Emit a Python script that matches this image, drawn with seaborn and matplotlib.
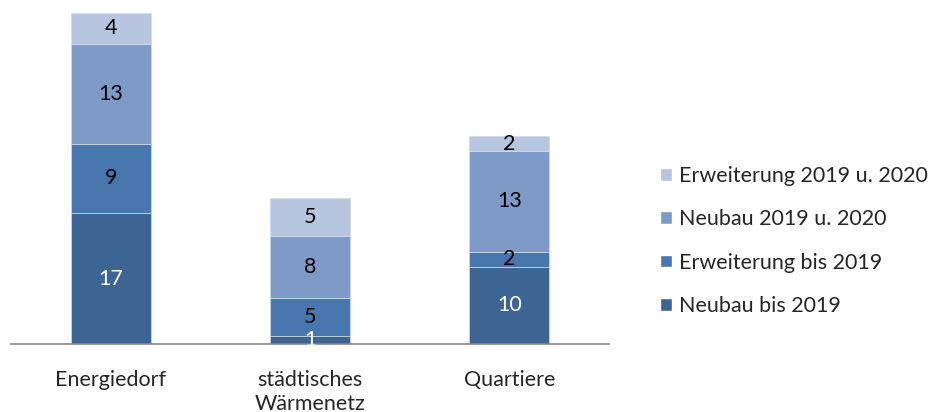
import numpy as np
import pandas as pd
import matplotlib.pyplot as plt
import seaborn as sns
from matplotlib.patches import Patch

categories = ["Energiedorf", "städtisches\nWärmenetz", "Quartiere"]
series = ["Neubau bis 2019", "Erweiterung bis 2019", "Neubau 2019 u. 2020", "Erweiterung 2019 u. 2020"]
neubau_bis_2019 = [17, 1, 10]
erweiterung_bis_2019 = [9, 5, 2]
neubau_2019_2020 = [13, 8, 13]
erweiterung_2019_2020 = [4, 5, 2]
colors = ["#3D6594", "#4877B0", "#7E9BC8", "#B7C5DF"]
label_colors = ["white", "black", "black", "black"]

sns.set_style("white")
plt.rcParams['font.family'] = ['Lato', 'DejaVu Sans']
fs = 15.5

fig = plt.figure(figsize=(9.35, 4.12), dpi=100)
ax = fig.add_axes([11/935, 68/412, 598/935, 344/412])

values = [neubau_bis_2019, erweiterung_bis_2019, neubau_2019_2020, erweiterung_2019_2020]
bottom = np.zeros(len(categories))
for vals, col, lc in zip(values, colors, label_colors):
    df = pd.DataFrame({"cat": categories, "val": vals})
    sns.barplot(data=df, x="cat", y="val", bottom=bottom, color=col, width=0.4,
                saturation=1, edgecolor="#D0DAEA", linewidth=0.5, ax=ax)
    ax.bar_label(ax.containers[-1], labels=[str(v) for v in vals], label_type="center",
                 color=lc, fontsize=fs)
    bottom = bottom + np.array(vals)

ax.set_xlim(-0.5, 2.5)
ax.set_ylim(0, 44.65)
ax.set_xlabel("")
ax.set_ylabel("")
ax.set_yticks([])
for s in ["top", "right", "left"]:
    ax.spines[s].set_visible(False)
ax.spines["bottom"].set_color("#868686")
ax.spines["bottom"].set_linewidth(1.2)
ax.set_xticks([0, 1, 2])
ax.set_xticklabels(categories, fontsize=fs, linespacing=1.2)
ax.tick_params(axis="x", which="major", length=0, pad=19)
ax.set_xticks([-0.5, 0.5, 1.5, 2.5], minor=True)
ax.tick_params(axis="x", which="minor", length=6, color="#868686", width=1.2)

handles = [Patch(facecolor=c, label=s) for s, c in zip(series, colors)][::-1]
fig.legend(handles=handles, loc="center left", bbox_to_anchor=(641/935, 1 - 241/412),
           frameon=False, fontsize=fs, labelspacing=1.08, handlelength=0.55,
           handleheight=0.55, handletextpad=0.3)

plt.savefig("out.png", dpi=100)
